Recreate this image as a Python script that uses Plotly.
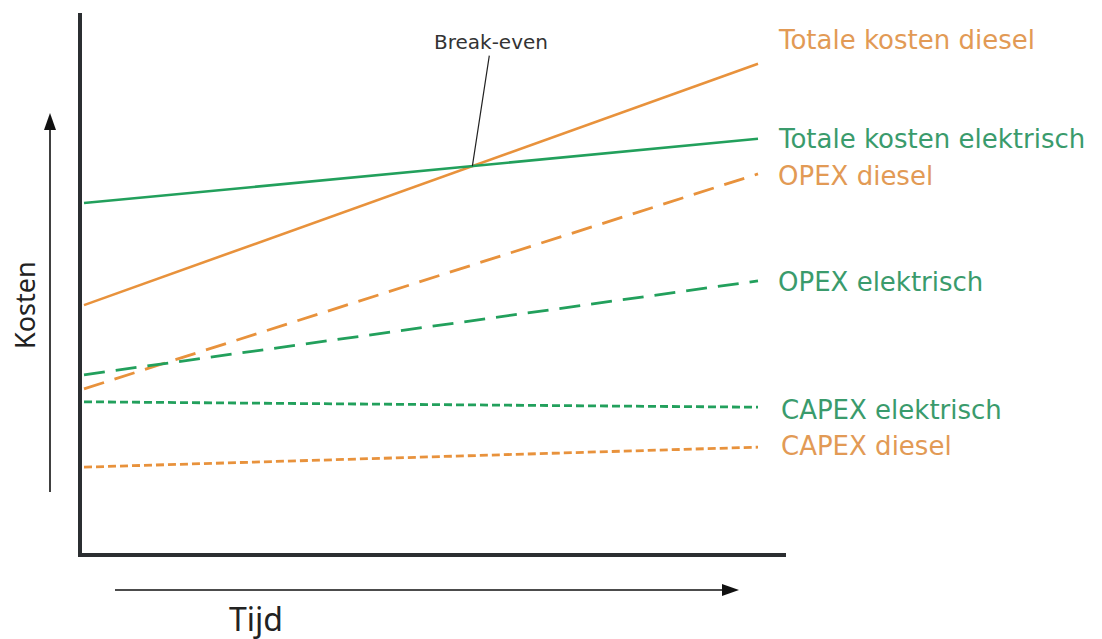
import plotly.graph_objects as go

# ---- data (abstract units: time 0..10, cost 0..100) ----
tijd = [0, 10]
totale_kosten_diesel = [45.9, 90.6]
totale_kosten_elektrisch = [64.8, 76.7]
opex_diesel = [30.4, 70.2]
opex_elektrisch = [33.0, 50.4]
capex_elektrisch = [28.0, 27.0]
capex_diesel = [15.9, 19.6]

series_names = ["Totale kosten diesel", "Totale kosten elektrisch", "OPEX diesel",
                "OPEX elektrisch", "CAPEX elektrisch", "CAPEX diesel"]

ORANGE = "#E8923C"
GREEN = "#22A05C"
ORANGE_TXT = "#E29A55"
GREEN_TXT = "#3A9B6C"

W, H = 1102, 639
OX, OY = 8, 8                  # page offset of the figure
L, R, T, B = 82, 786, 13, 553  # plot area in screen pixels


def px(xp, yp):
    return (xp - L) / (R - L), (B - yp) / (B - T)


fig = go.Figure()

styles = [
    (totale_kosten_diesel, ORANGE, "solid", 2.6),
    (totale_kosten_elektrisch, GREEN, "solid", 2.6),
    (opex_diesel, ORANGE, "21px,11px", 2.8),
    (opex_elektrisch, GREEN, "21px,11px", 2.8),
    (capex_elektrisch, GREEN, "8px,4px", 2.8),
    (capex_diesel, ORANGE, "8px,4px", 2.8),
]
for (vals, col, dash, w), name in zip(styles, series_names):
    fig.add_trace(go.Scatter(x=tijd, y=vals, mode="lines", name=name,
                             line=dict(color=col, dash=dash, width=w),
                             showlegend=False, hoverinfo="skip"))

# break-even point from the two total-cost lines
sd = (totale_kosten_diesel[1] - totale_kosten_diesel[0]) / (tijd[1] - tijd[0])
se = (totale_kosten_elektrisch[1] - totale_kosten_elektrisch[0]) / (tijd[1] - tijd[0])
t_be = (totale_kosten_elektrisch[0] - totale_kosten_diesel[0]) / (sd - se)
k_be = totale_kosten_diesel[0] + sd * t_be

annotations = [
    dict(x=t_be, y=k_be, xref="x", yref="y", text="Break-even", showarrow=True,
         arrowhead=0, arrowwidth=1.2, arrowcolor="#222222", ax=19, ay=-124,
         font=dict(family="DejaVu Sans", size=20, color="#333333")),
]

label_pos = [(776, 40), (776, 139), (776, 176), (776, 282), (779, 410), (779, 446)]
label_cols = [ORANGE_TXT, GREEN_TXT, ORANGE_TXT, GREEN_TXT, GREEN_TXT, ORANGE_TXT]
for name, (xp, yp), c in zip(series_names, label_pos, label_cols):
    xx, yy = px(xp, yp)
    annotations.append(dict(x=xx, y=yy, xref="paper", yref="paper", text=name,
                            showarrow=False, xanchor="left", yanchor="middle",
                            font=dict(family="DejaVu Sans", size=26, color=c)))

kx, ky = px(24, 305)
annotations.append(dict(x=kx, y=ky, xref="paper", yref="paper", text="Kosten",
                        showarrow=False, textangle=-90, xanchor="center", yanchor="middle",
                        font=dict(family="Noto Sans", size=27, color="#222222")))
tx, ty = px(256, 618)
annotations.append(dict(x=tx, y=ty, xref="paper", yref="paper", text="Tijd",
                        showarrow=False, xanchor="center", yanchor="middle",
                        font=dict(family="Noto Sans", size=32, color="#222222")))

shapes = []
# Kosten arrow
x0, y0 = px(50, 492)
x1, y1 = px(50, 128)
shapes.append(dict(type="line", xref="paper", yref="paper", x0=x0, y0=y0, x1=x1, y1=y1,
                   line=dict(color="#111111", width=1.6)))
a, b = px(44, 130)
c, d = px(56, 130)
e, f = px(50, 113)
shapes.append(dict(type="path", xref="paper", yref="paper",
                   path=f"M {a} {b} L {c} {d} L {e} {f} Z",
                   fillcolor="#111111", line=dict(width=0)))
# Tijd arrow
x0, y0 = px(115, 590)
x1, y1 = px(724, 590)
shapes.append(dict(type="line", xref="paper", yref="paper", x0=x0, y0=y0, x1=x1, y1=y1,
                   line=dict(color="#111111", width=1.6)))
a, b = px(722, 584)
c, d = px(722, 596)
e, f = px(739, 590)
shapes.append(dict(type="path", xref="paper", yref="paper",
                   path=f"M {a} {b} L {c} {d} L {e} {f} Z",
                   fillcolor="#111111", line=dict(width=0)))

x_scale = (758 - 84) / (tijd[1] - tijd[0])
y_scale = 5.4
fig.update_layout(
    width=W - OX, height=H - OY,
    margin=dict(l=L - OX, r=W - R, t=T - OY, b=H - B, pad=0),
    paper_bgcolor="white", plot_bgcolor="white",
    xaxis=dict(range=[(L - 84) / x_scale, (R - 84) / x_scale], showgrid=False,
               zeroline=False, showticklabels=False, ticks="",
               showline=True, linecolor="#2B2E31", linewidth=4),
    yaxis=dict(range=[0, (B - T) / y_scale], showgrid=False, zeroline=False,
               showticklabels=False, ticks="",
               showline=True, linecolor="#2B2E31", linewidth=4),
    annotations=annotations,
    shapes=shapes,
)

fig.write_html("out.html", config={"displayModeBar": False})
